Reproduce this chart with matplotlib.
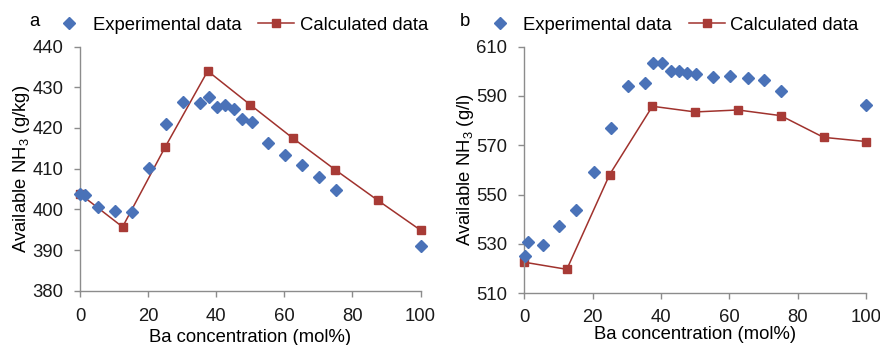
import matplotlib
matplotlib.use("Agg")
import matplotlib.pyplot as plt
from matplotlib.lines import Line2D

plt.rcParams["font.family"] = ["Liberation Sans", "DejaVu Sans"]
plt.rcParams["mathtext.default"] = "regular"

# --- panel a: g/kg ---
exp_x_a = [0, 1.5, 5.2, 10.3, 15.3, 20.3, 25.2, 30.2, 35.2, 37.9, 40.2, 42.7,
           45.3, 47.7, 50.4, 55.2, 60.2, 65.3, 70.2, 75.2, 100]
exp_y_a = [403.9, 403.5, 400.5, 399.7, 399.3, 410.1, 420.9, 426.4, 426.1, 427.5,
           425.2, 425.6, 424.6, 422.2, 421.4, 416.4, 413.3, 411.0, 407.9, 404.8, 390.9]
calc_x = [0, 12.5, 25, 37.5, 50, 62.5, 75, 87.5, 100]
calc_y_a = [403.8, 395.7, 415.3, 434.0, 425.7, 417.5, 409.7, 402.2, 394.9]

# --- panel b: g/l ---
exp_x_b = [0.4, 1.3, 5.4, 10.2, 15.3, 20.3, 25.3, 30.4, 35.3, 37.7, 40.3, 42.8,
           45.2, 47.7, 50.3, 55.3, 60.3, 65.3, 70.2, 75.1, 100]
exp_y_b = [525.1, 530.7, 529.7, 537.4, 543.9, 559.3, 577.0, 594.1, 595.1, 603.4,
           603.4, 600.0, 600.3, 599.1, 598.8, 597.6, 598.1, 597.2, 596.5, 591.8, 586.5]
calc_y_b = [522.6, 519.7, 558.1, 585.8, 583.5, 584.3, 582.0, 573.2, 571.5]

x_ticks = [0, 20, 40, 60, 80, 100]
y_ticks_a = [380, 390, 400, 410, 420, 430, 440]
y_ticks_b = [510, 530, 550, 570, 590, 610]

BLUE = "#4A72B8"
RED_LINE = "#A0322D"
RED_MARK = "#A83B36"
GREY = "#8C8C8C"
FS = 13.3


def draw_panel(fig, rect, ex, ey, cy, yticks, ylabel, letter, letter_x, leg_x,
               xpad, xlabelpad):
    ax = fig.add_axes(rect)
    ax.plot(calc_x, cy, color=RED_LINE, lw=1.1, marker="s", ms=6,
            mfc=RED_MARK, mec=RED_MARK, zorder=2, clip_on=False)
    ax.plot(ex, ey, ls="none", marker="D", ms=6.3, color=BLUE, zorder=3,
            clip_on=False)
    ax.set_xlim(0, 100)
    ax.set_ylim(yticks[0], yticks[-1])
    ax.set_xticks(x_ticks)
    ax.set_yticks(yticks)
    for s in ("top", "right"):
        ax.spines[s].set_visible(False)
    for s in ("left", "bottom"):
        ax.spines[s].set_color(GREY)
        ax.spines[s].set_linewidth(1.0)
    ax.tick_params(axis="both", colors=GREY, labelcolor="#1a1a1a",
                   labelsize=FS, length=4, width=1.0, direction="out")
    ax.tick_params(axis="x", pad=xpad)
    ax.tick_params(axis="y", pad=8)
    ax.set_xlabel("Ba concentration (mol%)", fontsize=FS, labelpad=xlabelpad)
    ax.set_ylabel(ylabel, fontsize=FS, labelpad=0.5)

    handles = [
        Line2D([], [], ls="none", marker="D", ms=6.3, color=BLUE),
        Line2D([], [], color=RED_LINE, lw=1.1, marker="s", ms=6,
               mfc=RED_MARK, mec=RED_MARK),
    ]
    ax.legend(handles, ["Experimental data", "Calculated data"], ncol=2,
              loc="center left", bbox_to_anchor=(leg_x, 0.927),
              bbox_transform=fig.transFigure, frameon=False,
              fontsize=FS, handlelength=1.95, handletextpad=0.3,
              columnspacing=0.9, borderaxespad=0)
    fig.text(letter_x, 0.937, letter, fontsize=FS, ha="left", va="center")
    return ax


fig = plt.figure(figsize=(8.8, 3.45), dpi=100)
draw_panel(fig, [0.0909, 0.157, 0.387, 0.708], exp_x_a, exp_y_a, calc_y_a,
           y_ticks_a, "Available NH$_3$ (g/kg)", "a", 0.033, 0.050, 8, 3)
draw_panel(fig, [0.5955, 0.150, 0.389, 0.715], exp_x_b, exp_y_b, calc_y_b,
           y_ticks_b, "Available NH$_3$ (g/l)", "b", 0.523, 0.539, 7, 0)

fig.savefig("out.png", dpi=100)
